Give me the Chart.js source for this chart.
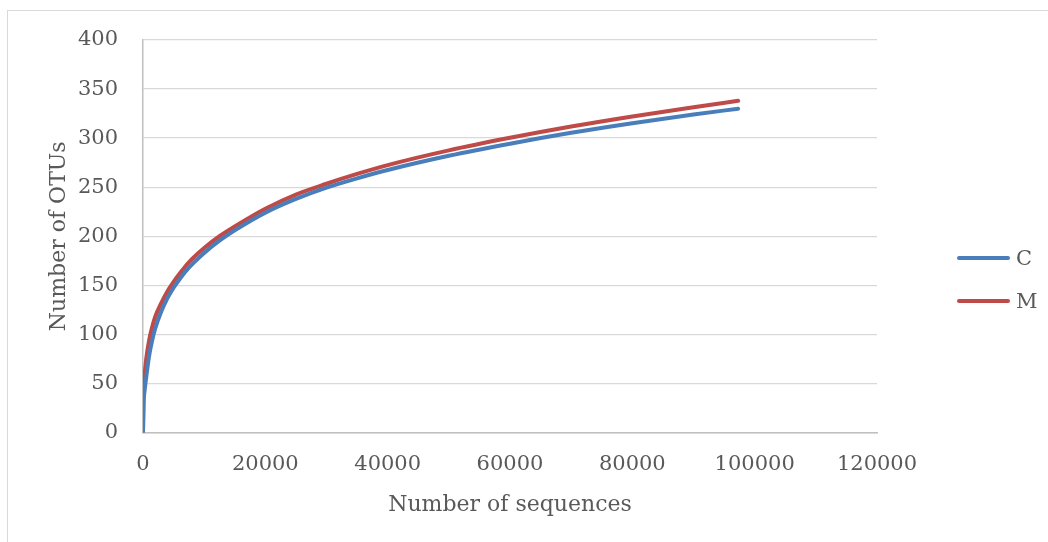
<!DOCTYPE html>
<html>
<head>
<meta charset="utf-8">
<script src="https://cdn.jsdelivr.net/npm/chart.js@4.4.0/dist/chart.umd.min.js"></script>
<style>
html,body{margin:0;padding:0;background:#fff;overflow:hidden}
#wrap{position:relative;width:1048px;height:542px}
#frame{position:absolute;left:7px;top:10px;width:1200px;height:700px;border-left:1.5px solid #D9D9D9;border-top:1.5px solid #D9D9D9;box-sizing:border-box}
canvas{position:absolute;left:0;top:0}
.lg{position:absolute;left:957px;height:30px;display:flex;align-items:center;font-family:"DejaVu Serif";font-size:21px;color:#595959}
.lg span.ln{display:inline-block;width:53px;height:4px;border-radius:2px;margin-right:6px}
</style>
</head>
<body>
<div id="wrap">
<div id="frame"></div>
<canvas id="c" width="1048" height="542"></canvas>
</div>
<script>
// Data
const seqCounts = [0, 100, 250, 500, 1000, 1500, 2000, 3000, 4000, 5000, 6000, 7500, 10000, 12500, 15000, 20000, 25000, 30000, 35000, 40000, 50000, 60000, 70000, 80000, 90000, 97300];
const otusC = [0, 30, 42, 55, 78, 94, 106, 123.5, 137, 147.5, 156.5, 168, 183, 195.5, 206, 224, 238, 249.5, 259, 267.5, 282, 294.3, 305.4, 315.2, 324, 330];
const otusM = [0, 45, 58, 74, 94, 107.5, 118, 132, 144, 153.5, 162, 173.5, 188, 200, 210, 228, 242.5, 253.5, 263.5, 272.5, 287.5, 300.3, 311.8, 322.1, 331.4, 338];
const seriesNames = ['C', 'M'];
const seriesColors = ['#4A7EBB', '#BE4B48'];
const xTickValues = [0, 20000, 40000, 60000, 80000, 100000, 120000];
const yTickValues = [0, 50, 100, 150, 200, 250, 300, 350, 400];
const xTitle = 'Number of sequences';
const yTitle = 'Number of OTUs';

const FONT = '"DejaVu Serif"';
const TXT = '#595959';

const seriesValues = [otusC, otusM];
const datasets = seriesNames.map((name, i) => ({
  label: name,
  data: seqCounts.map((x, j) => ({x: x, y: seriesValues[i][j]})),
  borderColor: seriesColors[i],
  backgroundColor: seriesColors[i],
  borderWidth: 4,
  pointRadius: 0,
  showLine: true,
  fill: false,
  cubicInterpolationMode: 'monotone',
  borderCapStyle: 'round',
  borderJoinStyle: 'round'
}));

new Chart(document.getElementById('c'), {
  type: 'scatter',
  data: {datasets: datasets},
  options: {
    responsive: false,
    animation: false,
    layout: {padding: {left: 12, top: 40, right: 171, bottom: 0}},
    plugins: {legend: {display: false}, tooltip: {enabled: false}},
    scales: {
      x: {
        type: 'linear',
        min: xTickValues[0],
        max: xTickValues[xTickValues.length - 1],
        afterBuildTicks: s => { s.ticks = xTickValues.map(v => ({value: v})); },
        ticks: {color: TXT, font: {family: FONT, size: 21}, padding: 19, maxRotation: 0, autoSkip: false, callback: v => String(v)},
        grid: {display: false, drawTicks: false},
        border: {display: true, color: '#BFBFBF', width: 1.5},
        title: {display: true, text: xTitle, color: TXT, font: {family: FONT, size: 22}, padding: {top: 0, bottom: 24}},
        afterFit: s => { s.height = 542 - 432.5; }
      },
      y: {
        min: yTickValues[0],
        max: yTickValues[yTickValues.length - 1],
        afterBuildTicks: s => { s.ticks = yTickValues.map(v => ({value: v})); },
        ticks: {color: TXT, font: {family: FONT, size: 21}, padding: 25, autoSkip: false},
        grid: {color: '#D9D9D9', lineWidth: 1.3, drawTicks: false},
        border: {display: true, color: '#BFBFBF', width: 1.5},
        title: {display: true, text: yTitle, color: TXT, font: {family: FONT, size: 22}, padding: {top: 34, bottom: 0}},
        afterFit: s => { s.width = 143 - 12; }
      }
    }
  }
});

// legend
const legendY = [258, 301];
seriesNames.forEach((name, i) => {
  const d = document.createElement('div');
  d.className = 'lg';
  d.style.top = (legendY[i] - 15) + 'px';
  const ln = document.createElement('span');
  ln.className = 'ln';
  ln.style.background = seriesColors[i];
  const t = document.createElement('span');
  t.textContent = name;
  d.appendChild(ln); d.appendChild(t);
  document.getElementById('wrap').appendChild(d);
});
</script>
</body>
</html>
